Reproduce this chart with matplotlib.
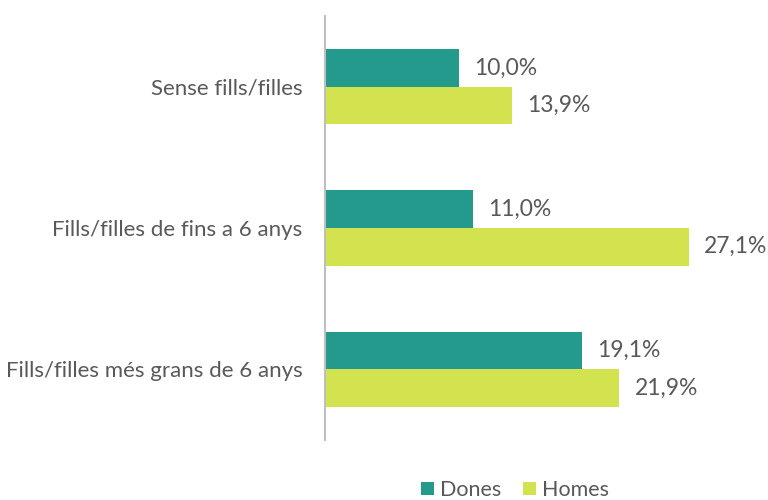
"""
Dones i homes segons fills/filles
"""

import numpy as np
import matplotlib.pyplot as plt

# Dades
categories = ['Sense fills/filles', 'Fills/filles de fins a 6 anys', 'Fills/filles més grans de 6 anys']
dones = [10.0, 11.0, 19.1]
homes = [13.9, 27.1, 21.9]

color_dones = '#239A8B'
color_homes = '#D3E24F'
gris = '#595959'
font = 16

plt.rcParams['font.family'] = ['Lato', 'DejaVu Sans']

fig = plt.figure(figsize=(7.68, 5), dpi=100)
ax = fig.add_axes([0.423, 0.12, 0.525, 0.848])

y = np.arange(len(categories))
h = 0.266

b1 = ax.barh(y - h / 2, dones, height=h, color=color_dones, label='Dones')
b2 = ax.barh(y + h / 2, homes, height=h, color=color_homes, label='Homes')

for barres, vals in ((b1, dones), (b2, homes)):
    for b, v in zip(barres, vals):
        ax.annotate(f'{v:.1f}%'.replace('.', ','),
                    (b.get_width(), b.get_y() + b.get_height() / 2),
                    xytext=(11, 0), textcoords='offset points',
                    va='center', ha='left', fontsize=font + 0.5, color=gris)

ax.set_xlim(0, 30)
ax.set_ylim(2.5, -0.5)
ax.set_yticks(y)
ax.set_yticklabels(categories, fontsize=font, color=gris)
ax.tick_params(axis='y', length=0, pad=16)
ax.set_xticks([])

for s in ('top', 'right', 'bottom'):
    ax.spines[s].set_visible(False)
ax.spines['left'].set_color('#BFBFBF')
ax.spines['left'].set_linewidth(1.5)

fig.legend(handles=[b1, b2], loc='center', bbox_to_anchor=(515 / 768, 1 - 490 / 500),
           ncol=2, frameon=False, fontsize=font - 0.5, labelcolor=gris,
           handlelength=0.6, handleheight=0.6, handletextpad=0.3, columnspacing=1.0)

plt.savefig('out.png', dpi=100)
